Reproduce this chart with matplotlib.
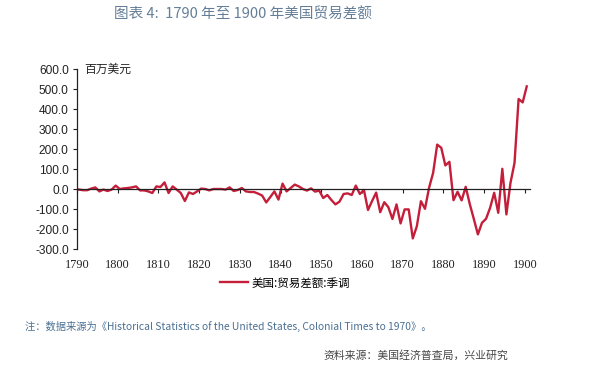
import matplotlib
matplotlib.use("Agg")
import matplotlib.pyplot as plt
import numpy as np

plt.rcParams['font.family'] = ['Noto Sans CJK SC', 'DejaVu Sans']

years = list(range(1790, 1901))
balance = [
    -3, -6, -6, 2, 8, -12, -3, -10, -3, 17,          # 1790-1799
    0, 3, 5, 8, 13, -7, -7, -12, -20, 13,            # 1800-1809
    10, 33, -20, 13, -3, -20, -60, -17, -25, -12,    # 1810-1819
    2, 0, -7, 0, 0, 0, -3, 8, -10, -5,               # 1820-1829
    5, -12, -15, -15, -23, -33, -67, -40, -12, -53,  # 1830-1839
    27, -12, 5, 22, 13, 0, -8, 3, -13, -8,           # 1840-1849
    -45, -30, -55, -77, -63, -25, -22, -30, 17, -25, # 1850-1859
    -5, -105, -60, -18, -116, -66, -91, -150, -77, -172,  # 1860-1869
    -102, -102, -247, -186, -61, -99, 6, 81, 222, 206,    # 1870-1879
    118, 136, -56, -14, -57, 11, -75, -150, -227, -169,   # 1880-1889
    -149, -94, -19, -119, 101, -127, 30, 131, 450, 433,   # 1890-1899
    513,                                                  # 1900
]
tick_years = list(range(1790, 1901, 10))
y_ticks = [600, 500, 400, 300, 200, 100, 0, -100, -200, -300]

title = "图表 4:  1790 年至 1900 年美国贸易差额"
unit = "百万美元"
legend_label = "美国:贸易差额:季调"
note = "注：数据来源为《Historical Statistics of the United States, Colonial Times to 1970》。"
source = "资料来源：美国经济普查局，兴业研究"

fig = plt.figure(figsize=(6.0, 3.76), dpi=100)
ax = fig.add_axes([77/600, 1-249/376, 453/600, 180/376])

line_color = "#C41E3A"
ax.plot(np.array(years), balance, color=line_color, lw=1.7, label=legend_label,
        solid_joinstyle='round')

ax.set_xlim(1789.5, 1900.8)
ax.set_ylim(-300, 600)

for s in ['top', 'right']:
    ax.spines[s].set_visible(False)
ax.spines['bottom'].set_position(('data', 0))
ax.spines['bottom'].set_color('#222222')
ax.spines['bottom'].set_linewidth(0.9)
ax.spines['left'].set_color('#222222')
ax.spines['left'].set_linewidth(0.9)

ax.set_xticks([t - 0.5 for t in tick_years])
ax.set_xticklabels([str(t) for t in tick_years], family=['Liberation Serif', 'DejaVu Serif'],
                   fontsize=8.8, color='#222222')
ax.tick_params(axis='x', direction='out', length=3, width=0.8, pad=47.5, color='#222222')

ax.set_yticks(y_ticks)
ax.set_yticklabels([f"{v:.1f}" for v in y_ticks], family=['Liberation Sans', 'DejaVu Sans'],
                   fontsize=8.6, color='#222222')
ax.tick_params(axis='y', direction='out', length=3, width=0.8, pad=3, color='#222222')

ax.text(0.015, 1.0, unit, transform=ax.transAxes, fontsize=8.5, color='#222222',
        ha='left', va='center')

leg = ax.legend(loc='center left', bbox_to_anchor=(143/453, -34/180), frameon=False,
                fontsize=8.3, handlelength=2.4, handletextpad=0.3, borderaxespad=0,
                borderpad=0)

fig.text(243/600, 1-14/376, title, ha='center', va='center', fontsize=10.5,
         color='#647E97')
fig.text(25/600, 1-326/376, note, ha='left', va='center', fontsize=7.4,
         color='#4A6F93')
fig.text(323/600, 1-355/376, source, ha='left', va='center', fontsize=7.8,
         color='#444444')

fig.savefig("out.png", dpi=100, facecolor='white')
